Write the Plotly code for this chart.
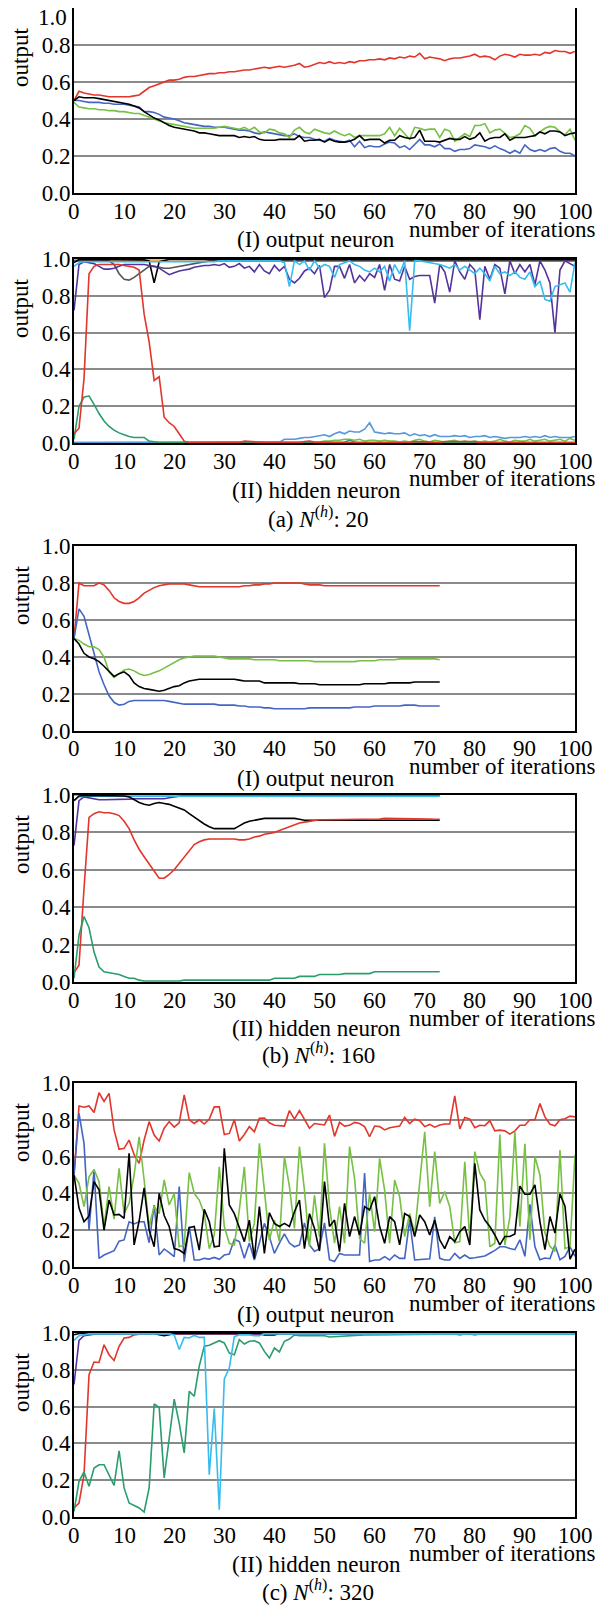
import plotly.graph_objects as go

# ---------------- data ----------------
# (a) N(h)=20, output neurons
a_out_red = [0.50,0.55,0.54,0.535,0.53,0.53,0.525,0.52,0.52,0.52,0.52,0.52,0.525,0.53,0.55,0.57,0.58,0.59,0.60,0.61,
 0.61,0.615,0.625,0.63,0.63,0.635,0.64,0.645,0.645,0.65,0.65,0.655,0.655,0.66,0.665,0.665,0.67,0.675,0.68,0.675,
 0.68,0.685,0.68,0.685,0.69,0.70,0.68,0.685,0.695,0.705,0.70,0.71,0.70,0.705,0.70,0.71,0.705,0.715,0.715,0.72,
 0.72,0.725,0.72,0.73,0.725,0.735,0.73,0.74,0.735,0.755,0.725,0.735,0.73,0.725,0.715,0.725,0.73,0.73,0.735,0.74,
 0.75,0.735,0.74,0.735,0.72,0.74,0.75,0.745,0.735,0.75,0.745,0.745,0.75,0.745,0.76,0.755,0.77,0.765,0.765,0.755,0.765]
a_out_black = [0.50,0.52,0.515,0.515,0.515,0.51,0.505,0.50,0.495,0.49,
 0.485,0.48,0.47,0.46,0.44,0.42,0.405,0.395,0.38,0.365,
 0.355,0.35,0.345,0.34,0.335,0.325,0.325,0.32,0.315,0.31,
 0.31,0.31,0.31,0.30,0.305,0.30,0.305,0.29,0.285,0.285,
 0.285,0.29,0.29,0.29,0.29,0.31,0.28,0.285,0.285,0.29,
 0.275,0.29,0.28,0.275,0.275,0.28,0.29,0.31,0.285,0.29,
 0.29,0.29,0.27,0.285,0.285,0.31,0.30,0.295,0.30,0.34,
 0.28,0.28,0.28,0.275,0.285,0.295,0.29,0.29,0.305,0.29,
 0.30,0.325,0.28,0.295,0.30,0.30,0.32,0.285,0.30,0.30,
 0.30,0.305,0.31,0.33,0.32,0.335,0.335,0.33,0.31,0.32,
 0.325]
a_out_blue = [0.50,0.50,0.495,0.49,0.49,0.49,0.485,0.485,0.48,0.48,
 0.48,0.475,0.47,0.465,0.44,0.44,0.435,0.425,0.41,0.405,
 0.40,0.39,0.38,0.375,0.37,0.365,0.36,0.36,0.355,0.355,
 0.355,0.35,0.345,0.34,0.34,0.335,0.325,0.32,0.33,0.325,
 0.32,0.315,0.31,0.31,0.32,0.305,0.30,0.30,0.29,0.285,
 0.28,0.295,0.285,0.28,0.275,0.285,0.25,0.28,0.245,0.255,
 0.25,0.25,0.265,0.275,0.27,0.245,0.255,0.235,0.265,0.29,
 0.26,0.26,0.25,0.265,0.24,0.24,0.225,0.235,0.235,0.24,
 0.26,0.255,0.25,0.24,0.255,0.24,0.23,0.215,0.23,0.215,
 0.26,0.235,0.225,0.235,0.225,0.24,0.245,0.225,0.215,0.215,
 0.20]
a_out_green = [0.49,0.465,0.46,0.455,0.455,0.45,0.45,0.445,0.445,0.44,
 0.44,0.435,0.43,0.43,0.42,0.41,0.40,0.39,0.38,0.375,
 0.37,0.365,0.36,0.355,0.35,0.35,0.35,0.35,0.35,0.355,
 0.36,0.355,0.35,0.345,0.355,0.34,0.355,0.33,0.325,0.345,
 0.34,0.325,0.32,0.30,0.34,0.355,0.33,0.32,0.345,0.335,
 0.325,0.32,0.335,0.32,0.31,0.32,0.30,0.31,0.31,0.31,
 0.31,0.31,0.32,0.355,0.31,0.35,0.32,0.29,0.355,0.35,
 0.34,0.345,0.345,0.30,0.345,0.335,0.28,0.30,0.32,0.305,
 0.365,0.365,0.375,0.325,0.34,0.345,0.32,0.30,0.305,0.32,
 0.365,0.35,0.31,0.33,0.35,0.36,0.355,0.33,0.315,0.345,
 0.285]

# (a) hidden neurons
a_hid_red = [0.05,0.08,0.35,0.92,0.96,0.97,0.97,0.97,0.97,0.97,
 0.965,0.96,0.955,0.94,0.70,0.55,0.34,0.36,0.14,0.11,
 0.09,0.05,0.01,0.003,0.003,0.003,0.003,0.003,0.003,0.003,
 0.003,0.003,0.003,0.003,0.01,0.008,0.003,0.003,0.003,0.003,
 0.003,0.003,0.003,0.003,0.003,0.003,0.008,0.01,0.005,0.003,
 0.003,0.003,0.003,0.003,0.003,0.003,0.003,0.003,0.003,0.003,
 0.003,0.003,0.003,0.003,0.005,0.005,0.003,0.003,0.008,0.008,
 0.005,0.005,0.003,0.003,0.008,0.008,0.008,0.005,0.008,0.008,
 0.008,0.003,0.003,0.003,0.003,0.003,0.003,0.003,0.003,0.003,
 0.003,0.003,0.003,0.003,0.003,0.003,0.003,0.003,0.003,0.003,
 0.003]
a_hid_teal = [0.02,0.20,0.25,0.255,0.21,0.16,0.12,0.09,0.07,0.055,
 0.045,0.035,0.03,0.03,0.03,0.01,0.005,0.003,0.003,0.003,
 0.003,0.003,0.003,0.003,0.003,0.003,0.003,0.003,0.003,0.003,
 0.003,0.003,0.003,0.003,0.003,0.003,0.003,0.003,0.003,0.003,
 0.003,0.003,0.003,0.003,0.003,0.003,0.003,0.003,0.003,0.003,
 0.003,0.003,0.003,0.003,0.005,0.015,0.005,0.003,0.003,0.003,
 0.003,0.003,0.003,0.003,0.003,0.003,0.003,0.003,0.003,0.003,
 0.003,0.003,0.003,0.003,0.003,0.003,0.003,0.003,0.003,0.003,
 0.003,0.003,0.003,0.003,0.003,0.003,0.003,0.003,0.003,0.003,
 0.003,0.003,0.003,0.003,0.003,0.003,0.003,0.003,0.003,0.003,
 0.003]
a_hid_purple = [0.72,0.97,0.985,0.98,0.975,0.96,0.945,0.945,0.95,0.96,
 0.97,0.97,0.97,0.97,0.97,0.965,0.96,0.95,0.93,0.915,
 0.925,0.935,0.94,0.945,0.955,0.96,0.965,0.965,0.97,0.965,
 0.975,0.955,0.96,0.975,0.95,0.96,0.93,0.97,0.935,0.92,
 0.965,0.935,0.96,0.89,0.87,0.895,0.935,0.95,0.92,0.965,
 0.79,0.83,0.96,0.96,0.895,0.97,0.87,0.91,0.88,0.92,
 0.90,0.97,0.83,0.97,0.89,0.88,0.96,0.89,0.905,0.91,
 0.91,0.91,0.76,0.97,0.93,0.82,0.99,0.93,0.89,0.97,
 0.94,0.67,0.96,0.89,0.97,0.95,0.81,0.99,0.92,0.97,
 0.93,0.97,0.86,0.99,0.94,0.87,0.60,0.94,0.99,0.975,
 0.96]
a_hid_cyan = [0.96,0.98,0.985,0.985,0.985,0.985,0.985,0.985,0.985,0.985,
 0.985,0.985,0.985,0.985,0.985,0.985,0.985,0.985,0.985,0.985,
 0.985,0.985,0.985,0.985,0.985,0.985,0.985,0.985,0.985,0.99,
 0.99,0.99,0.99,0.99,0.99,0.99,0.99,0.99,0.99,0.99,
 0.99,0.99,0.98,0.85,0.99,0.97,0.99,0.94,0.99,0.95,
 0.97,0.96,0.90,0.97,0.98,0.99,0.97,0.96,0.94,0.93,
 0.95,0.93,0.96,0.88,0.97,0.92,0.99,0.61,0.99,0.99,
 0.985,0.98,0.975,0.97,0.96,0.95,0.97,0.94,0.96,0.94,
 0.92,0.95,0.92,0.88,0.96,0.92,0.93,0.91,0.93,0.90,
 0.89,0.93,0.85,0.88,0.78,0.77,0.85,0.86,0.87,0.82,
 0.98]
a_hid_gray = [0.99,0.99,0.99,0.99,0.99,0.99,0.99,0.99,0.97,0.92,
 0.89,0.885,0.90,0.92,0.945,0.96,0.96,0.955,0.95,0.95,
 0.955,0.96,0.965,0.97,0.975,0.98,0.985,0.99,0.99,0.99,
 0.99,0.99,0.99,0.99,0.99,0.99,0.99,0.99,0.99,0.99,
 0.99,0.99,0.99,0.99,0.99,0.99,0.99,0.99,0.99,0.99,
 0.99,0.99,0.99,0.99,0.99,0.99,0.99,0.99,0.99,0.99,
 0.99,0.99,0.99,0.99,0.99,0.99,0.99,0.99,0.99,0.99,
 0.99,0.99,0.99,0.99,0.99,0.99,0.99,0.99,0.99,0.99,
 0.99,0.99,0.99,0.99,0.99,0.99,0.99,0.99,0.99,0.99,
 0.99,0.99,0.99,0.99,0.99,0.99,0.99,0.99,0.99,0.99,
 0.99]
a_hid_black = [0.98,0.997,0.997,0.997,0.997,0.997,0.997,0.997,0.997,0.997,
 0.997,0.997,0.997,0.997,0.995,0.99,0.87,0.985,0.99,0.997,
 0.997,0.997,0.997,0.997,0.997,0.997,0.997,0.997,0.997,0.997,
 0.997,0.997,0.997,0.997,0.997,0.997,0.997,0.997,0.997,0.997,
 0.997,0.997,0.997,0.997,0.997,0.997,0.997,0.997,0.997,0.997,
 0.997,0.997,0.997,0.997,0.997,0.997,0.997,0.997,0.997,0.997,
 0.997,0.997,0.997,0.997,0.997,0.997,0.997,0.997,0.997,0.997,
 0.997,0.997,0.997,0.997,0.997,0.997,0.997,0.997,0.997,0.997,
 0.997,0.997,0.997,0.997,0.997,0.997,0.997,0.997,0.997,0.997,
 0.997,0.997,0.997,0.997,0.997,0.997,0.997,0.997,0.997,0.997,
 0.997]
a_hid_lblue = [0.003,0.003,0.003,0.003,0.003,0.003,0.003,0.003,0.003,0.003,
 0.003,0.003,0.003,0.003,0.003,0.003,0.003,0.003,0.003,0.003,
 0.003,0.003,0.003,0.003,0.003,0.003,0.003,0.003,0.003,0.003,
 0.003,0.003,0.003,0.003,0.003,0.003,0.003,0.003,0.003,0.003,
 0.003,0.005,0.02,0.02,0.02,0.025,0.03,0.03,0.035,0.04,
 0.045,0.035,0.05,0.06,0.05,0.065,0.06,0.06,0.075,0.11,
 0.06,0.055,0.05,0.055,0.05,0.05,0.055,0.04,0.05,0.04,
 0.045,0.035,0.045,0.035,0.035,0.035,0.04,0.035,0.04,0.03,
 0.035,0.035,0.04,0.03,0.035,0.03,0.025,0.03,0.03,0.03,
 0.035,0.03,0.035,0.03,0.04,0.03,0.035,0.03,0.03,0.03,
 0.035]
a_hid_lgreen = [0.003,0.003,0.003,0.003,0.003,0.003,0.003,0.003,0.003,0.003,
 0.003,0.003,0.003,0.003,0.003,0.003,0.003,0.003,0.003,0.003,
 0.003,0.003,0.003,0.003,0.003,0.003,0.003,0.003,0.003,0.003,
 0.003,0.003,0.003,0.003,0.003,0.003,0.003,0.003,0.003,0.003,
 0.003,0.003,0.003,0.003,0.003,0.003,0.003,0.003,0.005,0.005,
 0.01,0.01,0.015,0.015,0.02,0.02,0.015,0.02,0.01,0.015,
 0.015,0.01,0.015,0.01,0.01,0.005,0.01,0.005,0.015,0.02,
 0.01,0.005,0.015,0.01,0.005,0.01,0.015,0.005,0.01,0.005,
 0.01,0.005,0.01,0.005,0.01,0.02,0.01,0.005,0.015,0.01,
 0.01,0.02,0.01,0.015,0.02,0.01,0.015,0.02,0.01,0.025,
 0.015]
a_hid_orange = [0.998,0.998,0.998,0.998,0.998,0.998,0.998,0.998,0.998,0.998,
 0.998,0.998,0.995,0.993,0.993,0.993,0.993,0.993,0.995,0.998,
 0.998,0.998,0.998,0.998,0.998,0.998,0.998,0.998,0.998,0.998,
 0.998,0.998,0.998,0.998,0.998,0.998,0.998,0.998,0.998,0.998,
 0.998,0.998,0.998,0.998,0.998,0.998,0.998,0.998,0.998,0.998,
 0.998,0.998,0.998,0.998,0.998,0.998,0.998,0.998,0.998,0.998,
 0.998,0.998,0.998,0.998,0.998,0.998,0.998,0.998,0.998,0.998,
 0.998,0.998,0.998,0.998,0.998,0.998,0.998,0.998,0.998,0.998,
 0.998,0.998,0.998,0.998,0.998,0.998,0.998,0.998,0.998,0.998,
 0.998,0.998,0.998,0.998,0.998,0.998,0.998,0.998,0.998,0.998,
 0.998]

# (b) N(h)=160, output neurons (74 iterations)
b_out_red = [0.50,0.80,0.785,0.785,0.785,0.80,0.79,0.76,0.72,0.70,
 0.69,0.69,0.70,0.72,0.745,0.76,0.775,0.785,0.79,0.795,
 0.795,0.795,0.795,0.79,0.785,0.78,0.78,0.78,0.78,0.78,
 0.78,0.78,0.78,0.78,0.785,0.785,0.79,0.79,0.795,0.795,
 0.80,0.80,0.80,0.80,0.80,0.80,0.795,0.79,0.79,0.79,
 0.785,0.785,0.785,0.785,0.785,0.785,0.785,0.785,0.785,0.785,
 0.785,0.785,0.785,0.785,0.785,0.785,0.785,0.785,0.785,0.785,
 0.785,0.785,0.785,0.785]
b_out_blue = [0.50,0.66,0.62,0.52,0.42,0.32,0.25,0.19,0.155,0.14,
 0.145,0.16,0.165,0.165,0.165,0.165,0.165,0.165,0.165,0.16,
 0.155,0.15,0.145,0.145,0.145,0.145,0.145,0.145,0.145,0.14,
 0.14,0.14,0.14,0.135,0.135,0.13,0.13,0.13,0.125,0.125,
 0.12,0.12,0.12,0.12,0.12,0.12,0.12,0.125,0.125,0.125,
 0.125,0.125,0.125,0.125,0.125,0.125,0.13,0.13,0.13,0.13,
 0.135,0.135,0.135,0.135,0.135,0.135,0.14,0.14,0.14,0.135,
 0.135,0.135,0.135,0.135]
b_out_black = [0.50,0.47,0.42,0.40,0.39,0.375,0.35,0.32,0.295,0.31,
 0.32,0.30,0.26,0.24,0.23,0.225,0.22,0.215,0.22,0.23,
 0.24,0.245,0.26,0.27,0.275,0.28,0.28,0.28,0.28,0.28,
 0.28,0.28,0.28,0.275,0.27,0.27,0.27,0.27,0.26,0.26,
 0.26,0.26,0.26,0.26,0.26,0.255,0.255,0.255,0.255,0.25,
 0.25,0.25,0.25,0.25,0.25,0.25,0.25,0.25,0.255,0.255,
 0.255,0.255,0.255,0.26,0.26,0.26,0.26,0.26,0.265,0.265,
 0.265,0.265,0.265,0.265]
b_out_green = [0.50,0.49,0.47,0.455,0.455,0.44,0.40,0.32,0.29,0.31,
 0.33,0.335,0.325,0.31,0.30,0.305,0.315,0.325,0.34,0.355,
 0.37,0.385,0.395,0.40,0.405,0.405,0.405,0.405,0.405,0.40,
 0.395,0.39,0.39,0.39,0.39,0.39,0.385,0.385,0.385,0.385,
 0.385,0.38,0.38,0.38,0.38,0.38,0.38,0.38,0.375,0.375,
 0.375,0.375,0.375,0.375,0.375,0.375,0.375,0.38,0.38,0.38,
 0.38,0.385,0.385,0.385,0.385,0.39,0.39,0.39,0.39,0.39,
 0.39,0.39,0.39,0.385]

# (b) hidden neurons
b_hid_red = [0.05,0.09,0.50,0.88,0.90,0.91,0.905,0.905,0.90,0.89,
 0.86,0.82,0.76,0.71,0.67,0.63,0.59,0.555,0.555,0.575,
 0.60,0.635,0.67,0.70,0.735,0.75,0.76,0.765,0.765,0.765,
 0.765,0.765,0.765,0.76,0.76,0.765,0.775,0.78,0.79,0.795,
 0.80,0.81,0.82,0.83,0.84,0.85,0.855,0.86,0.865,0.868,
 0.868,0.868,0.868,0.868,0.868,0.868,0.868,0.868,0.87,0.87,
 0.87,0.872,0.875,0.875,0.875,0.875,0.875,0.875,0.875,0.875,
 0.875,0.872,0.87,0.87]
b_hid_black = [0.97,0.995,0.997,0.997,0.997,0.997,0.997,0.997,0.997,0.997,
 0.995,0.99,0.975,0.96,0.95,0.945,0.955,0.96,0.955,0.95,
 0.94,0.93,0.92,0.90,0.88,0.86,0.845,0.83,0.82,0.82,
 0.82,0.82,0.82,0.835,0.85,0.86,0.865,0.87,0.875,0.875,
 0.875,0.875,0.875,0.875,0.875,0.87,0.865,0.865,0.865,0.865,
 0.865,0.865,0.865,0.865,0.865,0.865,0.865,0.865,0.865,0.865,
 0.865,0.865,0.865,0.865,0.865,0.865,0.865,0.865,0.865,0.865,
 0.865,0.865,0.865,0.865]
b_hid_purple = [0.73,0.97,0.99,0.985,0.98,0.975,0.975,0.975,0.975,0.975,
 0.975,0.978,0.98,0.98,0.98,0.98,0.98,0.98,0.98,0.985,
 0.99,0.995,0.997,0.997,0.997,0.997,0.997,0.997,0.997,0.997,
 0.997,0.997,0.997,0.997,0.997,0.997,0.997,0.997,0.997,0.997,
 0.997,0.997,0.997,0.997,0.997,0.997,0.997,0.997,0.997,0.997,
 0.997,0.997,0.997,0.997,0.997,0.997,0.997,0.997,0.997,0.997,
 0.997,0.997,0.997,0.997,0.997,0.997,0.997,0.997,0.997,0.997,
 0.997,0.997,0.997,0.997]
b_hid_cyan = [0.97,0.99,0.993,0.993,0.993,0.993,0.993,0.993,0.993,0.993,
 0.993,0.993,0.993,0.993,0.993,0.993,0.993,0.993,0.993,0.993,
 0.993,0.993,0.993,0.993,0.993,0.993,0.993,0.993,0.993,0.993,
 0.993,0.993,0.993,0.993,0.993,0.993,0.993,0.993,0.993,0.993,
 0.993,0.993,0.993,0.993,0.993,0.993,0.993,0.993,0.993,0.993,
 0.993,0.993,0.993,0.993,0.993,0.993,0.993,0.993,0.993,0.993,
 0.993,0.993,0.993,0.993,0.993,0.993,0.993,0.993,0.993,0.993,
 0.993,0.993,0.993,0.993]
b_hid_teal = [0.02,0.25,0.35,0.29,0.16,0.08,0.055,0.05,0.045,0.04,
 0.03,0.02,0.02,0.01,0.005,0.005,0.005,0.005,0.005,0.005,
 0.005,0.005,0.01,0.01,0.01,0.01,0.01,0.01,0.01,0.01,
 0.01,0.01,0.01,0.01,0.01,0.01,0.01,0.01,0.01,0.01,
 0.02,0.02,0.02,0.02,0.02,0.03,0.03,0.03,0.03,0.04,
 0.04,0.04,0.04,0.04,0.045,0.045,0.045,0.045,0.045,0.045,
 0.055,0.055,0.055,0.055,0.055,0.055,0.055,0.055,0.055,0.055,
 0.055,0.055,0.055,0.055]
b_hid_orange = [0.999,0.999,0.999,0.999,0.999,0.999,0.999,0.999,0.999,0.999,
 0.999,0.999,0.999,0.999,0.999,0.999,0.999,0.999,0.999,0.999,
 0.999,0.999,0.999,0.999,0.999,0.999,0.999,0.999,0.999,0.999,
 0.999,0.999,0.999,0.999,0.999,0.999,0.999,0.999,0.999,0.999,
 0.999,0.999,0.999,0.999,0.999,0.999,0.999,0.999,0.999,0.999,
 0.999,0.999,0.999,0.999,0.999,0.999,0.999,0.999,0.999,0.999,
 0.999,0.999,0.999,0.999,0.999,0.999,0.999,0.999,0.999,0.999,
 0.999,0.999,0.999,0.999]

# (c) N(h)=320, output neurons
c_out_red = [0.50,0.875,0.868,0.875,0.84,0.947,0.90,0.944,0.745,0.64,
 0.645,0.69,0.61,0.563,0.69,0.79,0.717,0.685,0.754,0.79,
 0.76,0.784,0.935,0.80,0.78,0.80,0.777,0.804,0.87,0.87,
 0.72,0.726,0.80,0.685,0.72,0.763,0.735,0.808,0.81,0.784,
 0.77,0.77,0.766,0.85,0.804,0.85,0.80,0.754,0.78,0.775,
 0.772,0.826,0.71,0.786,0.766,0.77,0.786,0.78,0.763,0.708,
 0.766,0.763,0.745,0.757,0.763,0.766,0.813,0.78,0.804,0.795,
 0.763,0.775,0.76,0.772,0.777,0.777,0.93,0.75,0.813,0.804,
 0.757,0.77,0.768,0.795,0.74,0.744,0.74,0.722,0.74,0.77,
 0.77,0.80,0.80,0.888,0.816,0.776,0.767,0.80,0.806,0.82,
 0.816]
c_out_blue = [0.50,0.835,0.672,0.20,0.53,0.047,0.065,0.078,0.089,0.14,
 0.147,0.246,0.234,0.246,0.246,0.132,0.337,0.065,0.098,0.078,
 0.056,0.437,0.029,0.22,0.038,0.038,0.047,0.043,0.052,0.042,
 0.065,0.07,0.15,0.138,0.047,0.13,0.038,0.13,0.237,0.165,
 0.074,0.13,0.18,0.13,0.11,0.12,0.24,0.12,0.085,0.10,
 0.24,0.04,0.03,0.074,0.065,0.065,0.065,0.065,0.51,0.03,
 0.038,0.038,0.056,0.038,0.065,0.047,0.047,0.255,0.038,0.04,
 0.04,0.045,0.273,0.047,0.038,0.038,0.074,0.047,0.065,0.047,
 0.05,0.055,0.06,0.075,0.09,0.11,0.11,0.10,0.094,0.148,
 0.058,0.34,0.11,0.04,0.049,0.045,0.12,0.04,0.058,0.11,
 0.058]
c_out_black = [0.50,0.32,0.246,0.277,0.464,0.42,0.20,0.364,0.283,0.286,
 0.264,0.618,0.12,0.25,0.43,0.20,0.11,0.40,0.28,0.22,
 0.10,0.092,0.074,0.214,0.22,0.092,0.313,0.246,0.11,0.114,
 0.645,0.337,0.29,0.21,0.138,0.255,0.047,0.328,0.074,0.295,
 0.237,0.22,0.237,0.22,0.30,0.364,0.10,0.29,0.21,0.087,
 0.464,0.22,0.255,0.083,0.346,0.165,0.274,0.174,0.328,0.31,
 0.382,0.22,0.129,0.274,0.246,0.12,0.29,0.274,0.165,0.283,
 0.246,0.174,0.255,0.147,0.10,0.165,0.138,0.192,0.22,0.12,
 0.563,0.31,0.255,0.22,0.174,0.12,0.166,0.166,0.18,0.44,
 0.395,0.395,0.446,0.247,0.094,0.274,0.184,0.397,0.33,0.043,
 0.097]
c_out_green = [0.50,0.455,0.328,0.49,0.53,0.464,0.22,0.437,0.26,0.536,
 0.29,0.346,0.50,0.708,0.473,0.22,0.33,0.29,0.473,0.337,
 0.40,0.11,0.12,0.513,0.40,0.364,0.29,0.10,0.174,0.545,
 0.22,0.129,0.12,0.31,0.545,0.138,0.237,0.672,0.418,0.147,
 0.255,0.138,0.60,0.437,0.21,0.654,0.418,0.11,0.39,0.165,
 0.672,0.328,0.129,0.328,0.129,0.654,0.482,0.156,0.129,0.40,
 0.192,0.59,0.418,0.129,0.473,0.382,0.165,0.29,0.183,0.473,
 0.735,0.328,0.627,0.346,0.41,0.328,0.132,0.138,0.572,0.147,
 0.627,0.51,0.464,0.11,0.129,0.72,0.12,0.27,0.735,0.22,
 0.67,0.148,0.60,0.50,0.184,0.112,0.085,0.635,0.10,0.11,
 0.61]

# (c) hidden neurons
c_hid_teal = [0.03,0.194,0.245,0.167,0.266,0.284,0.284,0.23,0.172,0.36,
 0.158,0.076,0.062,0.049,0.027,0.158,0.614,0.596,0.212,0.43,
 0.641,0.51,0.348,0.683,0.656,0.82,0.928,0.933,0.946,0.958,
 0.946,0.891,0.882,0.964,0.94,0.955,0.958,0.946,0.90,0.864,
 0.918,0.897,0.955,0.967,0.99,0.985,0.985,0.985,0.985,0.985,
 0.985,0.978,0.98,0.982,0.985,0.985,0.987,0.988,0.99,0.99,
 0.99,0.99,0.992,0.992,0.993,0.993,0.993,0.993,0.994,0.994,
 0.994,0.994,0.994,0.994,0.995,0.995,0.995,0.99,0.995,0.995,
 0.99,0.995,0.995,0.995,0.995,0.995,0.995,0.995,0.995,0.995,
 0.995,0.995,0.995,0.995,0.995,0.995,0.995,0.995,0.995,0.995,
 0.995]
c_hid_red = [0.05,0.076,0.23,0.774,0.842,0.84,0.936,0.882,0.851,0.928,
 0.973,0.976,0.99,0.995,0.997,0.997,0.997,0.997,0.997,0.997,
 0.997,0.997,0.997,0.997,0.997,0.997,0.997,0.997,0.997,0.997,
 0.997,0.997,0.997,0.997,0.997,0.997,0.997,0.997,0.997,0.997,
 0.997,0.997,0.997,0.997,0.997,0.997,0.997,0.997,0.997,0.997,
 0.997,0.997,0.997,0.997,0.997,0.997,0.997,0.997,0.997,0.997,
 0.997,0.997,0.997,0.997,0.997,0.997,0.997,0.997,0.997,0.997,
 0.997,0.997,0.997,0.997,0.997,0.997,0.997,0.997,0.997,0.997,
 0.997,0.997,0.997,0.997,0.997,0.997,0.997,0.997,0.997,0.997,
 0.997,0.997,0.997,0.997,0.997,0.997,0.997,0.997,0.997,0.997,
 0.997]
c_hid_purple = [0.72,0.96,0.985,0.99,0.993,0.995,0.995,0.995,0.995,0.995,
 0.995,0.995,0.995,0.995,0.995,0.995,0.995,0.995,0.995,0.995,
 0.995,0.995,0.995,0.995,0.995,0.995,0.995,0.995,0.995,0.995,
 0.995,0.995,0.995,0.995,0.995,0.995,0.995,0.995,0.995,0.995,
 0.995,0.995,0.995,0.995,0.995,0.995,0.995,0.995,0.995,0.995,
 0.995,0.995,0.995,0.995,0.995,0.995,0.995,0.995,0.995,0.995,
 0.995,0.995,0.995,0.995,0.995,0.995,0.995,0.995,0.995,0.995,
 0.995,0.995,0.995,0.995,0.995,0.995,0.995,0.995,0.995,0.995,
 0.995,0.995,0.995,0.995,0.995,0.995,0.995,0.995,0.995,0.995,
 0.995,0.995,0.995,0.995,0.995,0.995,0.995,0.995,0.995,0.995,
 0.995]
c_hid_cyan = [0.96,0.985,0.99,0.995,0.995,0.995,0.995,0.995,0.995,0.995,
 0.995,0.995,0.995,0.995,0.995,0.995,0.995,0.995,0.995,0.995,
 0.99,0.91,0.976,0.973,0.987,0.976,0.976,0.23,0.59,0.04,
 0.75,0.81,0.98,0.99,0.99,0.99,0.985,0.985,0.995,0.995,
 0.995,0.995,0.995,0.995,0.995,0.995,0.995,0.995,0.995,0.995,
 0.995,0.995,0.995,0.995,0.995,0.995,0.995,0.995,0.995,0.995,
 0.995,0.995,0.995,0.995,0.995,0.995,0.995,0.995,0.995,0.995,
 0.995,0.995,0.995,0.995,0.995,0.995,0.995,0.995,0.995,0.995,
 0.995,0.995,0.995,0.995,0.995,0.995,0.995,0.995,0.995,0.995,
 0.995,0.995,0.995,0.995,0.995,0.995,0.995,0.995,0.995,0.995,
 0.995]
c_hid_black = [0.99,0.997,0.997,0.997,0.997,0.997,0.997,0.997,0.997,0.997,
 0.997,0.997,0.997,0.997,0.997,0.997,0.997,0.99,0.985,0.99,
 0.997,0.997,0.997,0.997,0.997,0.997,0.997,0.997,0.997,0.997,
 0.997,0.997,0.997,0.997,0.997,0.997,0.997,0.997,0.99,0.99,
 0.99,0.997,0.997,0.997,0.997,0.997,0.997,0.997,0.997,0.997,
 0.997,0.997,0.997,0.997,0.997,0.997,0.997,0.997,0.997,0.997,
 0.997,0.997,0.997,0.997,0.997,0.997,0.997,0.997,0.997,0.997,
 0.997,0.997,0.997,0.997,0.997,0.997,0.997,0.997,0.997,0.997,
 0.997,0.997,0.997,0.997,0.997,0.997,0.997,0.997,0.997,0.997,
 0.997,0.997,0.997,0.997,0.997,0.997,0.997,0.997,0.997,0.997,
 0.997]

x_ticks = [0, 10, 20, 30, 40, 50, 60, 70, 80, 90, 100]
y_ticks = [0.0, 0.2, 0.4, 0.6, 0.8, 1.0]
y_tick_text = ["0.0", "0.2", "0.4", "0.6", "0.8", "1.0"]

C_RED = "#e2352b"
C_BLUE = "#4466c2"
C_GREEN = "#76c043"
C_BLACK = "#000000"
C_TEAL = "#2a9d6c"
C_PURPLE = "#55339c"
C_CYAN = "#36bcef"
C_LBLUE = "#5599dd"
C_GRAY = "#555555"
C_ORANGE = "#f0a050"

# ---------------- layout ----------------
# the page body has an 8px margin; page coordinates are converted to figure coordinates
OFF = 8
PAGE_W, PAGE_H = 614, 1606
W, H = PAGE_W - OFF, PAGE_H - OFF
FONT = "Liberation Serif"
FS = 23
X0, X1 = 74, 575
panels = [(8, 193), (259, 443), (546, 731), (795, 982), (1083, 1267), (1333, 1517)]


def px(xp):
    return (xp - OFF) / W


def py(yp):
    return 1 - (yp - OFF) / H


fig = go.Figure()

series = [
    [(a_out_red, C_RED), (a_out_blue, C_BLUE), (a_out_green, C_GREEN), (a_out_black, C_BLACK)],
    [(a_hid_orange, C_ORANGE), (a_hid_gray, C_GRAY), (a_hid_black, C_BLACK), (a_hid_purple, C_PURPLE),
     (a_hid_cyan, C_CYAN), (a_hid_lgreen, C_GREEN), (a_hid_lblue, C_LBLUE), (a_hid_teal, C_TEAL), (a_hid_red, C_RED)],
    [(b_out_red, C_RED), (b_out_blue, C_BLUE), (b_out_green, C_GREEN), (b_out_black, C_BLACK)],
    [(b_hid_orange, C_ORANGE), (b_hid_purple, C_PURPLE), (b_hid_cyan, C_CYAN), (b_hid_black, C_BLACK),
     (b_hid_red, C_RED), (b_hid_teal, C_TEAL)],
    [(c_out_red, C_RED), (c_out_blue, C_BLUE), (c_out_green, C_GREEN), (c_out_black, C_BLACK)],
    [(c_hid_purple, C_PURPLE), (c_hid_red, C_RED), (c_hid_black, C_BLACK), (c_hid_teal, C_TEAL), (c_hid_cyan, C_CYAN)],
]

layout = dict(width=W, height=H, margin=dict(l=0, r=0, t=0, b=0, pad=0, autoexpand=False),
              paper_bgcolor="white", plot_bgcolor="white", showlegend=False,
              font=dict(family=FONT, size=FS, color="black"))

for i, (top, bot) in enumerate(panels):
    k = "" if i == 0 else str(i + 1)
    for y, col in series[i]:
        fig.add_trace(go.Scatter(x=list(range(len(y))), y=y, mode="lines",
                                 line=dict(color=col, width=1.6),
                                 xaxis="x" + k, yaxis="y" + k, hoverinfo="skip"))
    # the top panel's "1.0" label would be clipped by the page edge: drawn separately below
    ttext = list(y_tick_text)
    if i == 0:
        ttext[-1] = " "
    layout["xaxis" + k] = dict(domain=[px(X0), px(X1)], range=[0, 100], anchor="y" + k,
                               automargin=False, showticklabels=False, ticks="",
                               tickmode="array", tickvals=x_ticks, showgrid=False, zeroline=False,
                               showline=True, linecolor="black", linewidth=2, mirror=True)
    layout["yaxis" + k] = dict(domain=[py(bot), py(top)], range=[0, 1], anchor="x" + k,
                               automargin=False, ticklabeloverflow="allow",
                               tickmode="array", tickvals=y_ticks, ticktext=ttext,
                               showgrid=True, gridcolor="#8a8a8a", gridwidth=1.5, zeroline=False,
                               showline=True, linecolor="black", linewidth=2, mirror=True,
                               ticks="", tickfont=dict(family=FONT, size=FS, color="black"))

fig.update_layout(**layout)
try:
    fig.update_yaxes(ticklabelstandoff=-3)
except Exception:
    pass


def ann(text, xpx, ypx, angle=0):
    fig.add_annotation(text=text, x=px(xpx), y=py(ypx), xref="paper", yref="paper",
                       showarrow=False, xanchor="center", yanchor="middle", textangle=angle,
                       font=dict(family=FONT, size=FS, color="black"))


# "1.0" of the top panel, on the y axis scale, nudged just inside the page
fig.add_annotation(text=y_tick_text[-1], x=px(69), xref="paper", y=y_ticks[-1], yref="y",
                   yshift=-9, showarrow=False, xanchor="right", yanchor="middle",
                   font=dict(family=FONT, size=FS, color="black"))

subtitles = ["(I) output neuron", "(II) hidden neuron"] * 3
for i, (top, bot) in enumerate(panels):
    k = "" if i == 0 else str(i + 1)
    # x tick labels, placed on the axis' own scale
    for t in x_ticks:
        fig.add_annotation(text=str(t), x=t, xref="x" + k, y=py(bot + 18), yref="paper",
                           showarrow=False, xanchor="center", yanchor="middle",
                           font=dict(family=FONT, size=FS, color="black"))
    ann("output", 21, top + 50, -90)
    ann("number of iterations", 503, bot + 36)
    ann(subtitles[i], 316, bot + 47)

ann("(a) <i>N</i><sup>(<i>h</i>)</sup>: 20", 318, 517)
ann("(b) <i>N</i><sup>(<i>h</i>)</sup>: 160", 318, 1053)
ann("(c) <i>N</i><sup>(<i>h</i>)</sup>: 320", 318, 1590)

fig.write_html("out.html")
